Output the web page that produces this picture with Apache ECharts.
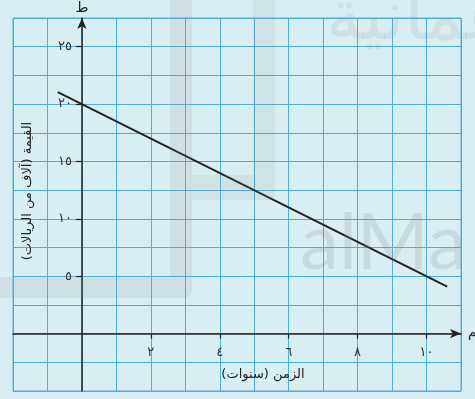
<!DOCTYPE html>
<html>
<head>
<meta charset="utf-8">
<script src="https://cdn.jsdelivr.net/npm/echarts@6/dist/echarts.min.js"></script>
<style>
  html, body { margin: 0; padding: 0; background: #d9eef3; }
  #chart { width: 475px; height: 399px; }
</style>
</head>
<body>
<div id="chart"></div>
<script>
  // line (years, thousands of riyals)
  const lineX = [-0.7, 10.6];
  const lineY = [21.05, 4.1];

  const xTicks = [2, 4, 6, 8, 10];
  const xTickLabels = ['٢', '٤', '٦', '٨', '١٠'];
  const yTicks = [5, 10, 15, 20, 25];
  const yTickLabels = ['٥', '١٠', '١٥', '٢٠', '٢٥'];

  const xTitle = 'الزمن (سنوات)';
  const yTitle = 'القيمة (آلاف من الريالات)';

  const font = 'DejaVu Sans';
  const ink = '#222';
  const gridColor = '#4cb0d6';

  const myChart = echarts.init(document.getElementById('chart'));

  const pickLabel = (ticks, labels) => v => {
    const i = ticks.indexOf(v);
    return i < 0 ? '' : labels[i];
  };

  const xRange = { min: -2, max: 11 };
  const yRange = { min: -5, max: 27.5 };

  // axis 0 = graph paper lines only, axis 1 = the drawn axis through zero
  let option = {
    backgroundColor: '#d9eef3',
    animation: false,
    grid: {
      left: 13, right: 14, top: 18, bottom: 8,
      containLabel: false,
      outerBoundsMode: 'none',
      show: true,
      borderColor: gridColor,
      borderWidth: 1
    },
    xAxis: [
      {
        type: 'value', ...xRange, interval: 1,
        axisLine: { show: false }, axisTick: { show: false }, axisLabel: { show: false },
        splitLine: { show: true, lineStyle: { color: gridColor, width: 1 } }
      },
      {
        type: 'value', ...xRange, interval: 1,
        position: 'bottom',
        offset: 0,
        name: 'م',
        nameLocation: 'end',
        nameGap: 7,
        nameTextStyle: { color: ink, fontFamily: font, fontSize: 14 },
        axisLine: {
          onZero: false,
          symbol: ['none', 'arrow'],
          symbolSize: [7, 11],
          lineStyle: { color: ink, width: 1.5 }
        },
        axisTick: {
          customValues: xTicks,
          length: 5,
          lineStyle: { color: ink, width: 1.2 }
        },
        axisLabel: {
          customValues: xTicks,
          formatter: pickLabel(xTicks, xTickLabels),
          margin: 13,
          color: '#333',
          fontFamily: font,
          fontSize: 13
        },
        splitLine: { show: false }
      }
    ],
    yAxis: [
      {
        type: 'value', ...yRange, interval: 2.5,
        axisLine: { show: false }, axisTick: { show: false }, axisLabel: { show: false },
        splitLine: { show: true, lineStyle: { color: gridColor, width: 1 } }
      },
      {
        type: 'value', ...yRange, interval: 2.5,
        position: 'left',
        offset: 0,
        name: 'ط',
        nameLocation: 'end',
        nameGap: 3,
        nameTextStyle: { color: ink, fontFamily: font, fontSize: 14 },
        axisLine: {
          onZero: false,
          symbol: ['none', 'arrow'],
          symbolSize: [7, 11],
          lineStyle: { color: ink, width: 1.5 }
        },
        axisTick: {
          customValues: yTicks,
          length: 6,
          lineStyle: { color: ink, width: 1.2 }
        },
        axisLabel: {
          customValues: yTicks,
          formatter: pickLabel(yTicks, yTickLabels),
          margin: 10,
          color: '#333',
          fontFamily: font,
          fontSize: 13
        },
        splitLine: { show: false }
      }
    ],
    series: [
      {
        type: 'line',
        xAxisIndex: 0,
        yAxisIndex: 0,
        data: lineX.map((x, i) => [x, lineY[i]]),
        symbol: 'none',
        silent: true,
        lineStyle: { color: ink, width: 2 },
        z: 5
      }
    ],
    graphic: [
      // faint watermark
      { type: 'rect', shape: { x: 170, y: 0, width: 22, height: 298, r: [0, 0, 8, 0] }, style: { fill: 'rgba(140,140,140,0.14)' }, z: 100, silent: true },
      { type: 'rect', shape: { x: 0, y: 277, width: 170, height: 21 }, style: { fill: 'rgba(140,140,140,0.14)' }, z: 100, silent: true },
      { type: 'rect', shape: { x: 253, y: 0, width: 22, height: 175 }, style: { fill: 'rgba(140,140,140,0.12)' }, z: 100, silent: true },
      { type: 'rect', shape: { x: 192, y: 175, width: 83, height: 25, r: [0, 0, 6, 0] }, style: { fill: 'rgba(140,140,140,0.12)' }, z: 100, silent: true },
      { type: 'text', left: 300, top: 205, style: { text: 'alMa', font: '78px Lato', fill: 'rgba(130,130,130,0.18)' }, z: 100, silent: true },
      { type: 'text', left: 326, top: -14, style: { text: 'عمانية', font: '70px "DejaVu Sans"', fill: 'rgba(130,130,130,0.13)' }, z: 100, silent: true },
      // axis titles
      {
        type: 'text', x: 263, y: 375,
        style: { text: xTitle, fill: ink, font: '13px "DejaVu Sans"', align: 'center', verticalAlign: 'middle' },
        z: 120
      },
      {
        type: 'text', x: 28, y: 191, rotation: Math.PI / 2,
        style: { text: yTitle, fill: ink, font: '13px "DejaVu Sans"', align: 'center', verticalAlign: 'middle' },
        z: 120
      }
    ]
  };

  myChart.setOption(option);

  // move the drawn axes onto the origin, using the chart's own scales
  const origin = myChart.convertToPixel({ gridIndex: 0 }, [0, 0]);
  const rect = myChart.getModel().getComponent('grid', 0).coordinateSystem.getRect();
  myChart.setOption({
    xAxis: [{}, { offset: origin[1] - (rect.y + rect.height) }],
    yAxis: [{}, { offset: rect.x - origin[0] }]
  });
</script>
</body>
</html>
